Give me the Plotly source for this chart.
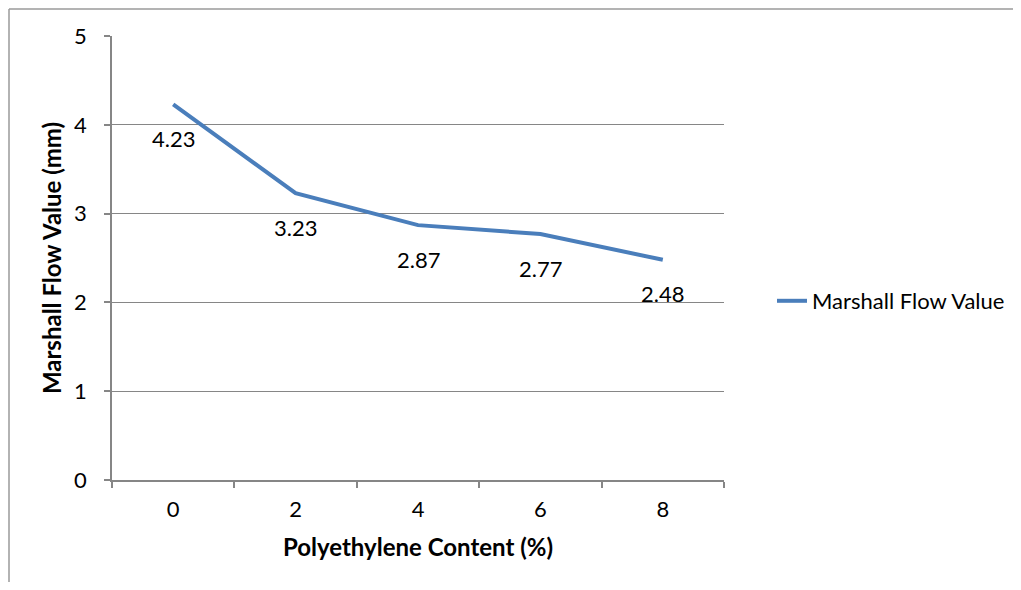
import plotly.graph_objects as go

categories = ["0", "2", "4", "6", "8"]
flow_values = [4.23, 3.23, 2.87, 2.77, 2.48]
label_texts = ["4.23", "3.23", "2.87", "2.77", "2.48"]
y_ticks = [0, 1, 2, 3, 4, 5]
series_name = "Marshall Flow Value"

OFF = 8  # browser body margin
W, H = 1021 - OFF, 590 - 2 * OFF
ML, MT = 112 - OFF, 36 - OFF
PR, PB = 724 - OFF, 480 - OFF
MR, MB = W - PR, H - PB
PW, PH = PR - ML, PB - MT

FONT = "Lato"
TXT = "#000000"
GRID = "#868686"
LINE = "#4A7EBB"
FS = 22
TFS = 24

fig = go.Figure()
fig.add_trace(go.Scatter(
    x=categories, y=flow_values, mode="lines", name=series_name,
    line=dict(color=LINE, width=4),
))

for i, (v, t) in enumerate(zip(flow_values, label_texts)):
    fig.add_annotation(x=i, y=v, text=t, showarrow=False, yshift=-34,
                       font=dict(family=FONT, size=FS, color=TXT))

def sx(p):  # svg pixel -> paper x
    return (p - ML) / PW

def sy(p):  # svg pixel -> paper y
    return (PB - p) / PH

border = dict(color="#9a9a9a", width=1.5)
fig.add_shape(type="line", xref="paper", yref="paper",
              x0=sx(1), x1=sx(W), y0=sy(1), y1=sy(1), line=border, layer="below")
fig.add_shape(type="line", xref="paper", yref="paper",
              x0=sx(1), x1=sx(1), y0=sy(1), y1=sy(H), line=border, layer="below")

fig.update_layout(
    width=W, height=H,
    margin=dict(l=ML, r=MR, t=MT, b=MB, pad=0, autoexpand=False),
    paper_bgcolor="white", plot_bgcolor="white",
    font=dict(family=FONT, size=FS, color=TXT),
    showlegend=True,
    legend=dict(xref="container", yref="container",
                x=(772 - OFF) / W, y=1 - (301 - OFF) / H, xanchor="left", yanchor="middle",
                font=dict(family=FONT, size=FS, color=TXT), bgcolor="rgba(0,0,0,0)",
                tracegroupgap=0),
    xaxis=dict(
        type="category", range=[-0.5, 4.5],
        showgrid=False, showline=True, linecolor=GRID, linewidth=1.5,
        ticks="outside", tickson="boundaries", ticklen=6, tickcolor=GRID, tickwidth=1.5,
        ticklabelstandoff=9,
        tickfont=dict(family=FONT, size=FS, color=TXT),
        title=dict(text="<b>Polyethylene Content (%)</b>", font=dict(family=FONT, size=TFS, color=TXT), standoff=18),
        zeroline=False,
    ),
    yaxis=dict(
        range=[0, 5], tickvals=y_ticks, ticktext=[str(t) for t in y_ticks],
        showgrid=True, gridcolor=GRID, gridwidth=1,
        showline=True, linecolor=GRID, linewidth=1.5,
        ticks="outside", ticklen=6, tickcolor=GRID, tickwidth=1.5,
        ticklabelstandoff=13,
        tickfont=dict(family=FONT, size=FS, color=TXT),
        title=dict(text="<b>Marshall Flow Value (mm)</b>", font=dict(family=FONT, size=TFS, color=TXT), standoff=6),
        zeroline=False,
    ),
)

fig.write_html("out.html",
               post_script="document.documentElement.style.overflow='hidden';document.body.style.overflow='hidden';")
